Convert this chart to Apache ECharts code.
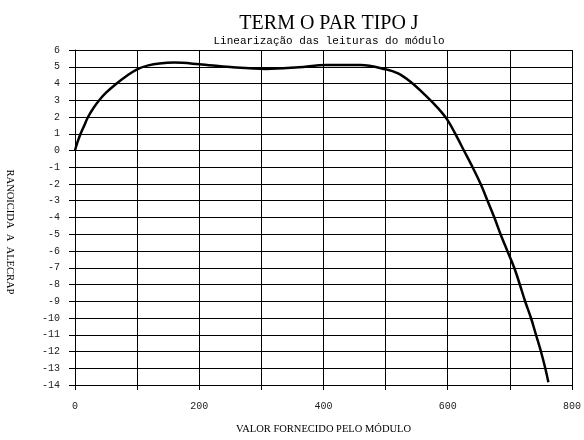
<!DOCTYPE html>
<html>
<head>
<meta charset="utf-8">
<script src="https://cdn.jsdelivr.net/npm/echarts@6/dist/echarts.min.js"></script>
<style>html,body{margin:0;padding:0;background:#fff}#c{width:584px;height:440px}</style>
</head>
<body>
<div id="c"></div>
<script>
const titleText = "TERM O PAR TIPO J";
const subtitleText = "Linearização das leituras do módulo";
const xAxisName = "VALOR FORNECIDO PELO MÓDULO";
const yAxisName = "RANOICIDA  A  ALECRAP";
const xValues = [0, 4, 9, 15, 21, 30, 39, 50, 67, 83, 100, 118, 136, 160, 200, 250, 308, 360, 404, 460, 500, 520, 540, 565, 585, 600, 616, 626, 640, 653, 664, 675, 685, 696, 707, 716, 724.5, 734, 742, 750, 757, 762];
const yValues = [0, 0.5, 1, 1.5, 2, 2.55, 3, 3.45, 4, 4.45, 4.85, 5.08, 5.2, 5.25, 5.15, 4.98, 4.87, 4.97, 5.1, 5.1, 4.85, 4.6, 4.1, 3.26, 2.5, 1.8, 0.72, 0, -1, -2, -3, -4, -5, -6, -7, -8, -9, -10, -11, -12, -13, -13.84];

const chart = echarts.init(document.getElementById('c'), null, {renderer: 'canvas'});
const mono = '"Liberation Mono", "DejaVu Sans Mono", monospace';
const serif = '"Liberation Serif", "DejaVu Serif", serif';
chart.setOption({
  animation: false,
  backgroundColor: '#fff',
  title: [
    {text: titleText, left: 324, top: 9, textAlign: 'center',
     textStyle: {fontFamily: serif, fontSize: 20, fontWeight: 'normal', color: '#000'}},
    {text: subtitleText, left: 324, top: 31, textAlign: 'center',
     textStyle: {fontFamily: mono, fontSize: 11, fontWeight: 'normal', color: '#000'}}
  ],
  graphic: [{
    type: 'text', x: 10, y: 232, rotation: -Math.PI / 2,
    style: {text: yAxisName, fontFamily: serif, fontSize: 10.5, fill: '#000',
            align: 'center', verticalAlign: 'middle'}
  }],
  grid: {left: 75, right: 11, top: 50, bottom: 49},
  xAxis: {
    type: 'value', min: 0, max: 800, interval: 100,
    name: xAxisName, nameLocation: 'middle', nameGap: 39,
    nameTextStyle: {fontFamily: serif, fontSize: 10.5, color: '#000'},
    axisLine: {show: true, onZero: false, lineStyle: {color: '#000', width: 1}},
    axisTick: {show: true, inside: false, length: 5, lineStyle: {color: '#000'}},
    axisLabel: {margin: 16, fontFamily: mono, fontSize: 10, color: '#222',
      formatter: v => (v % 200 === 0 ? String(v) : '')},
    splitLine: {show: true, lineStyle: {color: '#000', width: 1}}
  },
  yAxis: {
    type: 'value', min: -14, max: 6, interval: 1,
    axisLine: {show: true, onZero: false, lineStyle: {color: '#000', width: 1}},
    axisTick: {show: true, inside: false, length: 6, lineStyle: {color: '#000'}},
    axisLabel: {margin: 15, fontFamily: mono, fontSize: 10, color: '#222'},
    splitLine: {show: true, lineStyle: {color: '#000', width: 1}}
  },
  series: [{
    type: 'line',
    data: xValues.map((x, i) => [x, yValues[i]]),
    smooth: 0.35,
    showSymbol: false,
    lineStyle: {color: '#000', width: 2.5},
    z: 5
  }]
});
</script>
</body>
</html>
